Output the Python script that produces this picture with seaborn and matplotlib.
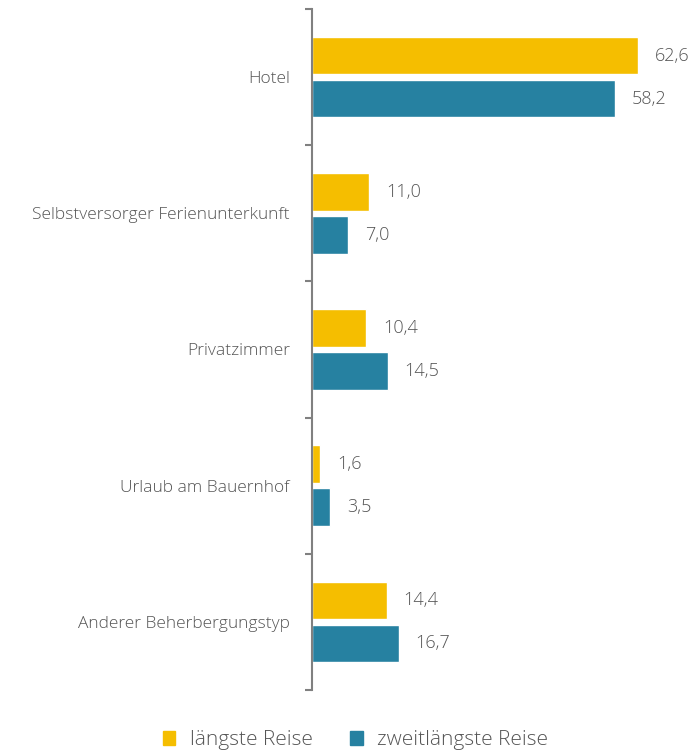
import matplotlib
matplotlib.use("Agg")
import matplotlib.pyplot as plt
import pandas as pd
import seaborn as sns

categories = ["Hotel", "Selbstversorger Ferienunterkunft", "Privatzimmer",
              "Urlaub am Bauernhof", "Anderer Beherbergungstyp"]
series_names = ["längste Reise", "zweitlängste Reise"]
laengste = [62.6, 11.0, 10.4, 1.6, 14.4]
zweitlaengste = [58.2, 7.0, 14.5, 3.5, 16.7]
colors = ["#F5BE00", "#2681A1"]

df = pd.DataFrame({
    "Typ": categories * 2,
    "Reise": [series_names[0]] * len(categories) + [series_names[1]] * len(categories),
    "Anteil": laengste + zweitlaengste,
})

sns.set_style("white")
plt.rcParams["font.family"] = ["Open Sans", "DejaVu Sans"]
plt.rcParams["font.weight"] = "light"
text_col = "#555555"

fig = plt.figure(figsize=(6.97, 7.54), dpi=100)
ax = fig.add_axes([0.4476, 0.085, 0.5524, 0.903])

sns.barplot(data=df, y="Typ", x="Anteil", hue="Reise", order=categories,
            hue_order=series_names, palette=colors, width=0.632, gap=0.13,
            orient="h", ax=ax, legend=False, saturation=1)

for cont in ax.containers:
    ax.bar_label(cont, labels=[f"{v:.1f}".replace(".", ",") for v in cont.datavalues],
                 padding=12, fontsize=13, color=text_col)

ax.set_xlim(0, 73.9)
ax.set_ylim(len(categories) - 0.5, -0.5)
ax.set_xlabel("")
ax.set_ylabel("")
ax.set_xticks([])
for s in ["top", "right", "bottom"]:
    ax.spines[s].set_visible(False)
ax.spines["left"].set_color("#808080")
ax.spines["left"].set_linewidth(1.5)

ax.set_yticks(range(len(categories)))
ax.set_yticklabels(categories, fontsize=12.5, color=text_col)
ax.tick_params(axis="y", which="major", length=0, pad=16)
ax.set_yticks([i - 0.5 for i in range(len(categories) + 1)], minor=True)
ax.tick_params(axis="y", which="minor", length=5, width=1.5, color="#808080", left=True)

handles = [plt.Rectangle((0, 0), 1, 1, color=c) for c in colors]
fig.legend(handles, series_names, loc="lower center", bbox_to_anchor=(0.51, -0.02),
           ncol=2, frameon=False, fontsize=15, labelcolor=text_col,
           handlelength=0.6, handleheight=0.6, handletextpad=0.7, columnspacing=1.8)

fig.savefig("out.png", dpi=100)
